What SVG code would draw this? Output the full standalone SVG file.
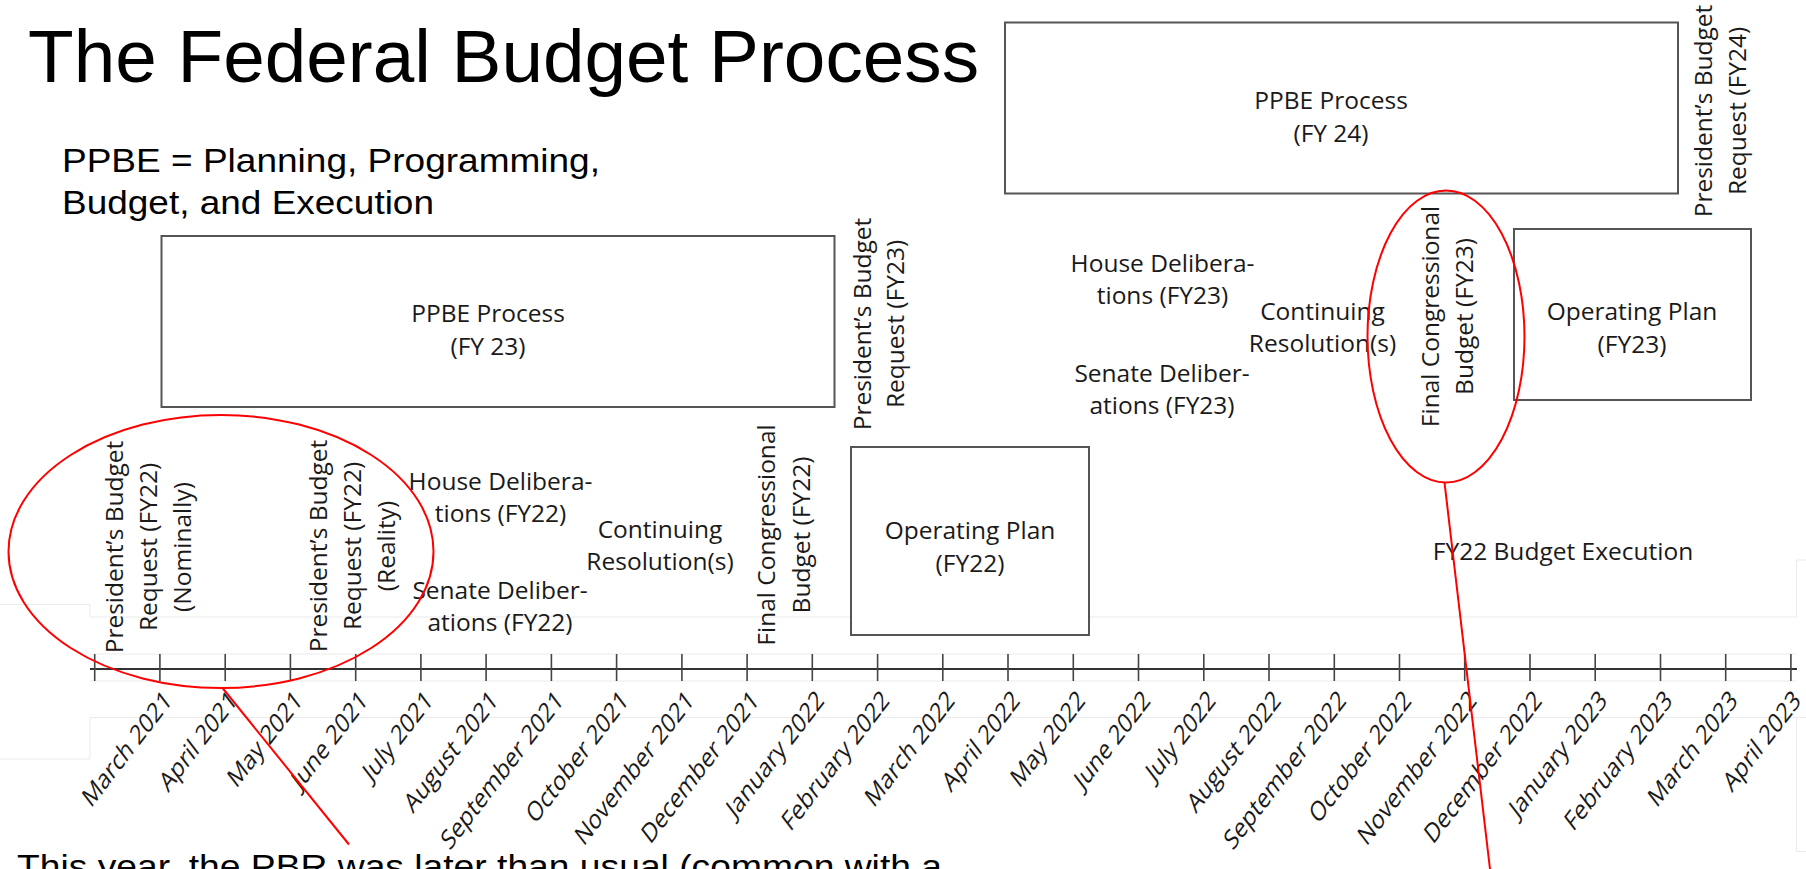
<svg xmlns="http://www.w3.org/2000/svg" width="1806" height="869" viewBox="0 0 1806 869">
<style>
.hd{font-family:"Liberation Sans",Arial,sans-serif;fill:#000}
.lbl{font-family:"Open Sans","DejaVu Sans",sans-serif;font-size:24.5px;fill:#1a1a1a}
.mid{text-anchor:middle}
.box{fill:#fff;stroke:#555;stroke-width:2}
.faint{fill:none;stroke:#ebebeb;stroke-width:1}
.red{fill:none;stroke:#f00;stroke-width:2}
.mon{font-family:"Open Sans","DejaVu Sans",sans-serif;font-size:24.5px;fill:#1a1a1a;text-anchor:end}
</style>
<rect width="1806" height="869" fill="#fff"/>

<g id="faint-guides">
<polyline class="faint" points="0,604.5 90,604.5 90,617 1796.5,617 1796.5,560 1806,560"/>
<line class="faint" x1="90" y1="654" x2="1796.5" y2="654"/>
<line class="faint" x1="90" y1="681" x2="1796.5" y2="681"/>
<polyline class="faint" points="0,759 90,759 90,717.5 1806,717.5"/>
<polyline class="faint" points="1796.5,717.5 1796.5,851.5 1806,851.5"/>
</g>

<g id="title">
<text class="hd" x="28" y="82" font-size="74" textLength="951" lengthAdjust="spacingAndGlyphs">The Federal Budget Process</text>
</g>
<g id="legend">
<text class="hd" x="62" y="172" font-size="34" textLength="538" lengthAdjust="spacingAndGlyphs">PPBE = Planning, Programming,</text>
<text class="hd" x="62" y="214" font-size="34" textLength="372" lengthAdjust="spacingAndGlyphs">Budget, and Execution</text>
</g>

<g id="ppbe-fy23">
<rect class="box" x="161.5" y="236" width="673" height="171"/>
<text class="lbl mid" x="488" y="321.5">PPBE Process</text>
<text class="lbl mid" x="488" y="354.5">(FY 23)</text>
</g>
<g id="ppbe-fy24">
<rect class="box" x="1005" y="22.5" width="673" height="171"/>
<text class="lbl mid" x="1331" y="108.5">PPBE Process</text>
<text class="lbl mid" x="1331" y="141.5">(FY 24)</text>
</g>
<g id="opplan-fy22">
<rect class="box" x="851" y="447" width="238" height="188"/>
<text class="lbl mid" x="970" y="538.5">Operating Plan</text>
<text class="lbl mid" x="970" y="571.5">(FY22)</text>
</g>
<g id="opplan-fy23">
<rect class="box" x="1514" y="229" width="237" height="171"/>
<text class="lbl mid" x="1632" y="320">Operating Plan</text>
<text class="lbl mid" x="1632" y="353">(FY23)</text>
</g>

<g id="pbr-fy22-nominal">
<text class="lbl mid" transform="translate(123,547) rotate(-90)"><tspan x="0" dy="0">President’s Budget</tspan><tspan x="0" dy="34">Request (FY22)</tspan><tspan x="0" dy="33.5">(Nominally)</tspan></text>
</g>
<g id="pbr-fy22-reality">
<text class="lbl mid" transform="translate(327,546) rotate(-90)"><tspan x="0" dy="0">President’s Budget</tspan><tspan x="0" dy="34">Request (FY22)</tspan><tspan x="0" dy="34">(Reality)</tspan></text>
</g>
<g id="house-fy22">
<text class="lbl mid" x="500.5" y="489.5">House Delibera-</text>
<text class="lbl mid" x="500.5" y="522">tions (FY22)</text>
</g>
<g id="senate-fy22">
<text class="lbl mid" x="500" y="599">Senate Deliber-</text>
<text class="lbl mid" x="500" y="631">ations (FY22)</text>
</g>
<g id="cr-fy22">
<text class="lbl mid" x="660" y="537.5">Continuing</text>
<text class="lbl mid" x="660" y="569.5">Resolution(s)</text>
</g>
<g id="final-fy22">
<text class="lbl mid" transform="translate(775,535) rotate(-90)"><tspan x="0" dy="0">Final Congressional</tspan><tspan x="0" dy="34.5">Budget (FY22)</tspan></text>
</g>
<g id="pbr-fy23">
<text class="lbl mid" transform="translate(871,324) rotate(-90)"><tspan x="0" dy="0">President’s Budget</tspan><tspan x="0" dy="33">Request (FY23)</tspan></text>
</g>
<g id="house-fy23">
<text class="lbl mid" x="1162.5" y="271.5">House Delibera-</text>
<text class="lbl mid" x="1162.5" y="304">tions (FY23)</text>
</g>
<g id="senate-fy23">
<text class="lbl mid" x="1162" y="381.5">Senate Deliber-</text>
<text class="lbl mid" x="1162" y="413.5">ations (FY23)</text>
</g>
<g id="cr-fy23">
<text class="lbl mid" x="1322.5" y="320">Continuing</text>
<text class="lbl mid" x="1322.5" y="351.5">Resolution(s)</text>
</g>
<g id="final-fy23">
<text class="lbl mid" transform="translate(1439,316.5) rotate(-90)"><tspan x="0" dy="0">Final Congressional</tspan><tspan x="0" dy="33.5">Budget (FY23)</tspan></text>
</g>
<g id="pbr-fy24">
<text class="lbl mid" transform="translate(1711.5,111) rotate(-90)"><tspan x="0" dy="0">President’s Budget</tspan><tspan x="0" dy="34.5">Request (FY24)</tspan></text>
</g>
<g id="execution-fy22">
<text class="lbl mid" x="1563" y="560" font-size="25.2">FY22 Budget Execution</text>
</g>

<g id="timeline">
<line x1="90" y1="669" x2="1797" y2="669" stroke="#333" stroke-width="2"/>
<path stroke="#444" stroke-width="1.6" fill="none" d="M94.7 654V681M159.9 654V681M225.2 654V681M290.4 654V681M355.7 654V681M420.9 654V681M486.1 654V681M551.4 654V681M616.6 654V681M681.9 654V681M747.1 654V681M812.3 654V681M877.6 654V681M942.8 654V681M1008 654V681M1073.3 654V681M1138.5 654V681M1203.8 654V681M1269 654V681M1334.3 654V681M1399.5 654V681M1464.7 654V681M1530 654V681M1595.2 654V681M1660.5 654V681M1725.7 654V681M1790.9 654V681"/>
<text class="mon" transform="translate(172.9,702) scale(0.86,1.12) rotate(-45)">March 2021</text>
<text class="mon" transform="translate(238.2,702) scale(0.86,1.12) rotate(-45)">April 2021</text>
<text class="mon" transform="translate(303.4,702) scale(0.86,1.12) rotate(-45)">May 2021</text>
<text class="mon" transform="translate(368.7,702) scale(0.86,1.12) rotate(-45)">June 2021</text>
<text class="mon" transform="translate(433.9,702) scale(0.86,1.12) rotate(-45)">July 2021</text>
<text class="mon" transform="translate(499.1,702) scale(0.86,1.12) rotate(-45)">August 2021</text>
<text class="mon" transform="translate(564.4,702) scale(0.86,1.12) rotate(-45)">September 2021</text>
<text class="mon" transform="translate(629.6,702) scale(0.86,1.12) rotate(-45)">October 2021</text>
<text class="mon" transform="translate(694.9,702) scale(0.86,1.12) rotate(-45)">November 2021</text>
<text class="mon" transform="translate(760.1,702) scale(0.86,1.12) rotate(-45)">December 2021</text>
<text class="mon" transform="translate(825.3,702) scale(0.86,1.12) rotate(-45)">January 2022</text>
<text class="mon" transform="translate(890.6,702) scale(0.86,1.12) rotate(-45)">February 2022</text>
<text class="mon" transform="translate(955.8,702) scale(0.86,1.12) rotate(-45)">March 2022</text>
<text class="mon" transform="translate(1021.1,702) scale(0.86,1.12) rotate(-45)">April 2022</text>
<text class="mon" transform="translate(1086.3,702) scale(0.86,1.12) rotate(-45)">May 2022</text>
<text class="mon" transform="translate(1151.5,702) scale(0.86,1.12) rotate(-45)">June 2022</text>
<text class="mon" transform="translate(1216.8,702) scale(0.86,1.12) rotate(-45)">July 2022</text>
<text class="mon" transform="translate(1282,702) scale(0.86,1.12) rotate(-45)">August 2022</text>
<text class="mon" transform="translate(1347.3,702) scale(0.86,1.12) rotate(-45)">September 2022</text>
<text class="mon" transform="translate(1412.5,702) scale(0.86,1.12) rotate(-45)">October 2022</text>
<text class="mon" transform="translate(1477.7,702) scale(0.86,1.12) rotate(-45)">November 2022</text>
<text class="mon" transform="translate(1543,702) scale(0.86,1.12) rotate(-45)">December 2022</text>
<text class="mon" transform="translate(1608.2,702) scale(0.86,1.12) rotate(-45)">January 2023</text>
<text class="mon" transform="translate(1673.5,702) scale(0.86,1.12) rotate(-45)">February 2023</text>
<text class="mon" transform="translate(1738.7,702) scale(0.86,1.12) rotate(-45)">March 2023</text>
<text class="mon" transform="translate(1802,702) scale(0.86,1.12) rotate(-45)">April 2023</text>
</g>

<g id="note">
<text class="hd" x="17" y="878" font-size="34" textLength="925" lengthAdjust="spacingAndGlyphs">This year, the PBR was later than usual (common with a</text>
</g>

<g id="connectors">
<ellipse class="red" cx="221" cy="551.5" rx="212.5" ry="136.5"/>
<line class="red" x1="222.5" y1="688" x2="349" y2="844.5"/>
<ellipse class="red" cx="1446" cy="336.5" rx="78.5" ry="146"/>
<line class="red" x1="1444.5" y1="482.5" x2="1490" y2="869"/>
</g>
</svg>
